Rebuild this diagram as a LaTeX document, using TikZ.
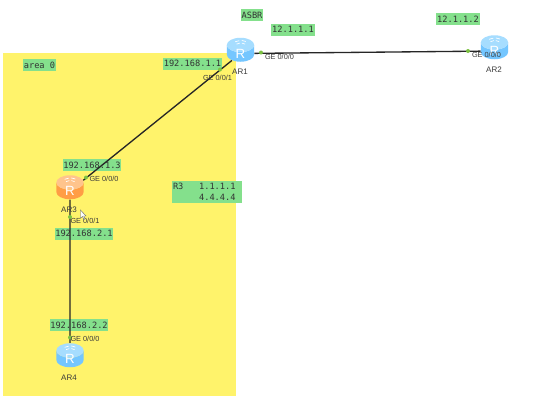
\documentclass[tikz,border=0pt]{standalone}
\usepackage{fontspec}
\setsansfont{Liberation Sans}
\setmonofont{DejaVu Sans Mono}
\usetikzlibrary{shapes.geometric,backgrounds}
\definecolor{areafill}{HTML}{FFF36B}
\definecolor{tagfill}{HTML}{84E08C}
\definecolor{bluetop}{HTML}{A6DDFF}
\definecolor{bluebody}{HTML}{74C6FF}
\definecolor{orangetop}{HTML}{FFC48C}
\definecolor{orangebody}{HTML}{FF9D45}
\definecolor{portdot}{HTML}{7CC242}
\definecolor{portgrey}{HTML}{3A3A3A}
\newcommand{\routerR}{\raisebox{-3.5pt}[0pt][0pt]{R}}
\tikzset{
  font=\sffamily,
  tag/.style={fill=tagfill,inner xsep=0.6pt,inner ysep=0pt,minimum height=9pt,
              font=\ttfamily\fontsize{6.5}{8.2}\selectfont,text=black!80,align=left},
  router/.style={cylinder,shape border rotate=90,aspect=1.5,draw=none,
                 minimum width=20.5pt,minimum height=18pt,inner sep=0pt,
                 cylinder uses custom fill,text=white,
                 font=\sffamily\fontsize{10}{10}\selectfont,
                 path picture={
                   \draw[white,line width=0.5pt]
                     ([xshift=-4pt,yshift=6pt]path picture bounding box.center) -- ++(3pt,0.8pt)
                     ([xshift=1pt,yshift=7pt]path picture bounding box.center) -- ++(3pt,-0.8pt)
                     ([xshift=-3pt,yshift=4.2pt]path picture bounding box.center) -- ++(2.5pt,0.8pt)
                     ([xshift=1pt,yshift=5pt]path picture bounding box.center) -- ++(2.5pt,-0.8pt);
                 }},
  bluerouter/.style={router,cylinder end fill=bluetop,cylinder body fill=bluebody},
  orangerouter/.style={router,cylinder end fill=orangetop,cylinder body fill=orangebody},
  devname/.style={font=\sffamily\fontsize{6}{7}\selectfont,text=portgrey,inner sep=0pt},
  portname/.style={font=\sffamily\fontsize{5.5}{7}\selectfont,text=portgrey,inner sep=0pt},
  portmark/.style={circle,fill=portdot,inner sep=0pt,minimum size=3pt},
  link/.style={draw=black!85,line width=1pt},
}

\begin{document}
\begin{tikzpicture}[x=0.75pt,y=-0.75pt]
  \node[bluerouter] (ar1) at (240.5,53.5) {\routerR};
  \node[bluerouter] (ar2) at (494.5,51) {\routerR};
  \node[orangerouter] (ar3) at (70,191) {\routerR};
  \node[bluerouter] (ar4) at (70,359) {\routerR};

  \begin{scope}[on background layer]
    \path[use as bounding box,fill=white] (0,0) rectangle (554,408);
    \node[fill=areafill,inner sep=0pt,minimum width=174.75pt,minimum height=257.25pt]
      (area) at (119.5,224.5) {};
    \node[tag] (areatag) at (39.5,65) {area 0};
    \node[tag] (asbr) at (252,15) {ASBR};
    \node[tag] (ip1) at (293,29.5) {12.1.1.1};
    \node[tag] (ip2) at (192.5,63.5) {192.168.1.1};
    \node[tag] (ip3) at (458,19) {12.1.1.2};
    \node[tag] (ip4) at (92,165) {192.168.1.3};
    \node[tag] (ip5) at (84,233.5) {192.168.2.1};
    \node[tag] (ip6) at (79,325) {192.168.2.2};
    \node[tag,text width=51pt,inner xsep=0.75pt,minimum height=16.5pt] (loop) at (207,192)
      {R3\phantom{000}1.1.1.1\\\phantom{00000}4.4.4.4};
    \draw[link] (ar1) -- (ar2);
    \draw[link] (ar1) -- (ar3);
    \draw[link] (ar3) -- (ar4);
  \end{scope}

  \node[portmark] (p1) at (261,52.5) {};
  \node[portmark] (p2) at (220,69.5) {};
  \node[portmark] (p3) at (468,51) {};
  \node[portmark] (p4) at (86,177.5) {};
  \node[portmark] (p5) at (70,217) {};
  \node[portmark] (p6) at (70,337.5) {};

  \node[devname] (name1) at (240,72) {AR1};
  \node[devname] (name2) at (494,69.5) {AR2};
  \node[devname] (name3) at (69,210) {AR3};
  \node[devname] (name4) at (69,378) {AR4};

  \node[portname] (ge1) at (279.5,56.5) {GE 0/0/0};
  \node[portname] (ge2) at (217.5,77.5) {GE 0/0/1};
  \node[portname] (ge3) at (486.5,54.5) {GE 0/0/0};
  \node[portname] (ge4) at (104,179) {GE 0/0/0};
  \node[portname] (ge5) at (85,220.5) {GE 0/0/1};
  \node[portname] (ge6) at (85,338.5) {GE 0/0/0};

  % pointer
  \draw[fill=white,draw=black!60,line width=0.3pt] (80.5,210) -- (80.5,218) -- (82.5,216.5)
    -- (84,219.5) -- (85,219) -- (83.7,216) -- (86,216) -- cycle;
\end{tikzpicture}
\end{document}
